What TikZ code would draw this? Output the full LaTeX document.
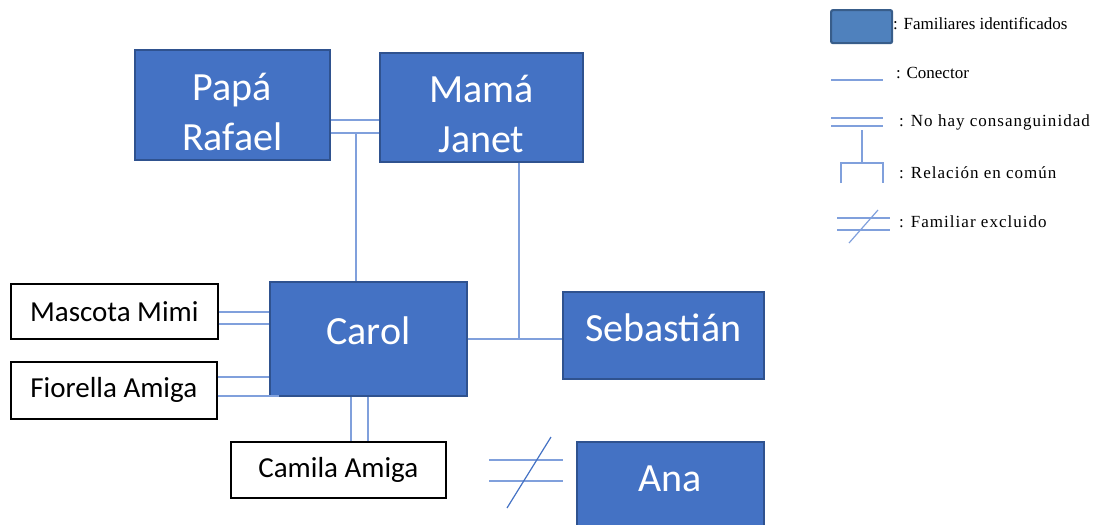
\documentclass[tikz,border=0pt]{standalone}
\usepackage{fontspec}
\setmainfont{Carlito}
\newfontfamily\legendfont{Liberation Serif}
\newfontfamily\legendwide[LetterSpace=6]{Liberation Serif}
\newcommand{\tallstrut}{\rule{0pt}{41pt}}
\definecolor{famfill}{RGB}{68,114,196}
\definecolor{famedge}{RGB}{47,82,143}
\definecolor{linkcol}{RGB}{128,160,220}
\definecolor{legfill}{RGB}{79,129,189}
\definecolor{legedge}{RGB}{56,93,138}
\tikzset{
  fam/.style={draw=famedge, line width=1.6pt, fill=famfill, text=white,
    anchor=north west, inner sep=0pt, align=center, font=\fontsize{40}{50}\selectfont},
  raised/.style={text depth=16pt},
  friend/.style={draw=black, line width=1.6pt, fill=white, anchor=north west,
    inner sep=0pt, align=center, font=\fontsize{29}{33}\selectfont},
  conn/.style={draw=linkcol, line width=1.6pt},
  legtext/.style={anchor=west, inner sep=0pt, font=\legendfont\fontsize{17}{19}\selectfont},
  legwide/.style={anchor=west, inner sep=0pt, font=\legendwide\fontsize{17}{19}\selectfont}
}
\begin{document}
\begin{tikzpicture}[x=1pt, y=-1pt]
\useasboundingbox (0,0) rectangle (1093,525);

% family members
\node[fam, minimum width=195pt, minimum height=110pt] (papa) at (134,49) {\tallstrut Papá\\Rafael};
\node[fam, minimum width=203pt, minimum height=109pt] (mama) at (379,52) {\tallstrut Mamá\\Janet};
\node[fam, raised, minimum width=197pt, minimum height=114pt] (carol) at (269,281) {Carol};
\node[fam, raised, minimum width=201pt, minimum height=87pt] (sebas) at (562,291) {Sebastián};
\node[fam, raised, minimum width=187pt, minimum height=90pt] (ana) at (576,441) {Ana};

% friends and pet
\node[friend, minimum width=207pt, minimum height=55pt] (mimi) at (10,283) {Mascota Mimi};
\node[friend, minimum width=206pt, minimum height=57pt] (fiorella) at (10,361) {Fiorella Amiga};
\node[friend, minimum width=215pt, minimum height=56pt] (camila) at (230,441) {Camila Amiga};

% parents: no blood relation
\coordinate (pmA) at (0,120);
\coordinate (pmB) at (0,133);
\draw[conn] (papa.east |- pmA) -- (mama.west |- pmA);
\draw[conn] (papa.east |- pmB) -- (mama.west |- pmB);
\coordinate (pj) at (356,133);
\draw[conn] (pj) -- (pj |- carol.north);

% Mamá to Carol and Sebastián
\coordinate (mj) at (519,339);
\draw[conn] (mama.south -| mj) -- (mj);
\draw[conn] (carol.east |- mj) -- (sebas.west |- mj);

% friends and pet to Carol
\coordinate (miA) at (0,312);
\coordinate (miB) at (0,324);
\draw[conn] (mimi.east |- miA) -- (carol.west |- miA);
\draw[conn] (mimi.east |- miB) -- (carol.west |- miB);
\coordinate (fiA) at (0,377);
\coordinate (fiB) at (279,396);
\draw[conn] (fiorella.east |- fiA) -- (carol.west |- fiA);
\draw[conn] (fiorella.east |- fiB) -- (fiB);
\coordinate (caA) at (351,0);
\coordinate (caB) at (368,0);
\draw[conn] (carol.south -| caA) -- (camila.north -| caA);
\draw[conn] (carol.south -| caB) -- (camila.north -| caB);

% excluded member mark
\coordinate (exA1) at (489,460);
\coordinate (exA2) at (563,460);
\coordinate (exB1) at (489,481);
\coordinate (exB2) at (563,481);
\coordinate (exS1) at (507,508);
\coordinate (exS2) at (551,437);
\draw[conn] (exA1) -- (exA2);
\draw[conn] (exB1) -- (exB2);
\draw[conn, line width=1.2pt, draw=famfill] (exS1) -- (exS2);

% legend
\node[draw=legedge, line width=2.2pt, fill=legfill, rounded corners=2pt,
      minimum width=61pt, minimum height=33pt, anchor=north west, inner sep=0pt] (lgbox) at (830,9) {};
\node[legtext] (lgt1) at (893,24) {: Familiares identificados};

\coordinate (lc1) at (831,80);
\coordinate (lc2) at (883,80);
\draw[conn] (lc1) -- (lc2);
\node[legtext] (lgt2) at (896,73) {: Conector};

\coordinate (ld1) at (831,118);
\coordinate (ld2) at (883,118);
\coordinate (ld3) at (831,126);
\coordinate (ld4) at (883,126);
\draw[conn] (ld1) -- (ld2);
\draw[conn] (ld3) -- (ld4);
\node[legwide] (lgt3) at (899,122) {: No hay consanguinidad};

\coordinate (lr0) at (862,130);
\coordinate (lr1) at (862,163);
\coordinate (lrL) at (841,163);
\coordinate (lrR) at (883,163);
\coordinate (lrLd) at (841,183);
\coordinate (lrRd) at (883,183);
\draw[conn] (lr0) -- (lr1);
\draw[conn] (lrLd) -- (lrL) -- (lrR) -- (lrRd);
\node[legwide] (lgt4) at (899,173) {: Relación en común};

\coordinate (le1) at (837,218);
\coordinate (le2) at (890,218);
\coordinate (le3) at (837,230);
\coordinate (le4) at (890,230);
\coordinate (le5) at (849,243);
\coordinate (le6) at (878,210);
\draw[conn] (le1) -- (le2);
\draw[conn] (le3) -- (le4);
\draw[conn, line width=1.2pt] (le5) -- (le6);
\node[legwide] (lgt5) at (899,222) {: Familiar excluido};
\end{tikzpicture}
\end{document}
